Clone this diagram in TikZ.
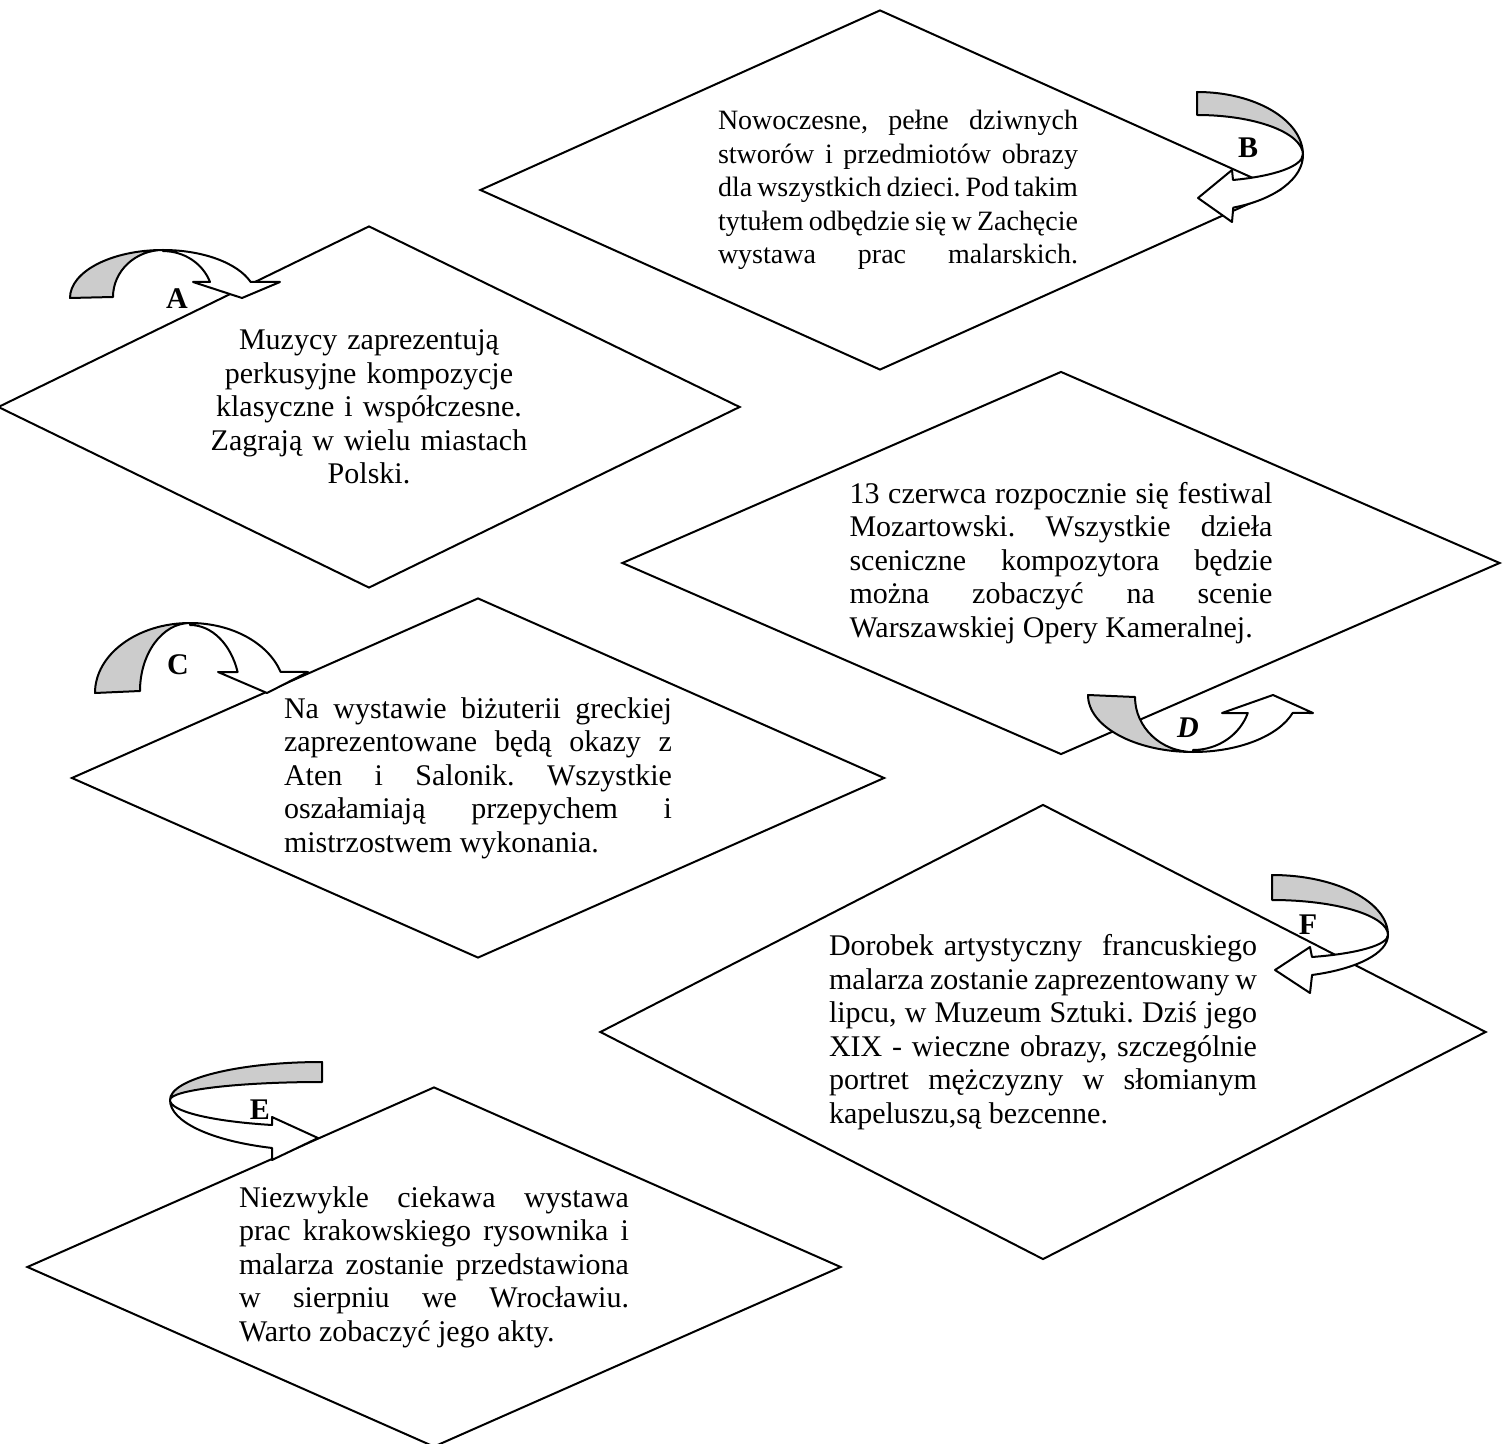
\documentclass[tikz,border=0pt]{standalone}
\usepackage{fontspec}
\setmainfont{Liberation Serif}
\usetikzlibrary{shapes.geometric}

% one full-width (justified) line of a notice
\newcommand{\jline}[1]{\makebox[\linewidth][s]{#1}}

\tikzset{
  notice/.style={diamond, draw, line width=1pt, inner sep=0pt, align=justify,
                 font=\fontsize{15}{16.75}\selectfont\frenchspacing},
  back/.style={draw, line width=1pt, line join=round, fill=gray!40},
  front/.style={draw, line width=1pt, line join=round, fill=white},
  tag/.style={inner sep=0pt, font=\fontsize{15}{18}\selectfont\bfseries}
}

\begin{document}
\begin{tikzpicture}[x=0.5pt, y=-0.5pt]
\useasboundingbox (0,0) rectangle (1505,1444);

% the six notices
\node[notice, minimum width=400pt, minimum height=180pt, aspect=2.22, text width=198pt,
      font=\fontsize{14}{16.75}\selectfont\frenchspacing] (nowoczesne) at (880,190) {%
  \linewidth=180pt
  \hspace*{18pt}\jline{Nowoczesne, pełne dziwnych}\\
  \hspace*{18pt}\jline{stworów i przedmiotów obrazy}\\
  \hspace*{18pt}\jline{dla wszystkich dzieci. Pod takim}\\
  \hspace*{18pt}\jline{tytułem odbędzie się w Zachęcie}\\
  \hspace*{18pt}\jline{wystawa prac malarskich.}};

\node[notice, minimum width=371pt, minimum height=181pt, aspect=2.05, text width=165pt,
      align=center] (muzycy) at (369,407) {%
  Muzycy zaprezentują\\
  perkusyjne kompozycje\\
  klasyczne i współczesne.\\
  Zagrają w wielu miastach\\
  Polski.};

\node[notice, minimum width=439pt, minimum height=191.5pt, aspect=2.29, text width=211.5pt]
      (mozart) at (1061,563) {%
  \jline{13 czerwca rozpocznie się festiwal}\\
  \jline{Mozartowski. Wszystkie dzieła}\\
  \jline{sceniczne kompozytora będzie}\\
  \jline{można zobaczyć na scenie}\\
  Warszawskiej Opery Kameralnej.};

\node[notice, minimum width=406.5pt, minimum height=180pt, aspect=2.26, text width=194pt]
      (bizuteria) at (478,778) {%
  \jline{Na wystawie biżuterii greckiej}\\
  \jline{zaprezentowane będą okazy z}\\
  \jline{Aten i Salonik. Wszystkie}\\
  \jline{oszałamiają przepychem i}\\
  mistrzostwem wykonania.};

\node[notice, minimum width=443pt, minimum height=227.5pt, aspect=1.95, text width=214pt]
      (malarz) at (1043,1032) {%
  \jline{Dorobek artystyczny~ francuskiego}\\
  \jline{malarza zostanie zaprezentowany w}\\
  \jline{lipcu, w Muzeum Sztuki. Dziś jego}\\
  \jline{XIX - wieczne obrazy, szczególnie}\\
  \jline{portret mężczyzny w słomianym}\\
  kapeluszu,są bezcenne.};

\node[notice, minimum width=407pt, minimum height=180pt, aspect=2.26, text width=195pt]
      (rysownik) at (434,1267) {%
  \jline{Niezwykle ciekawa wystawa}\\
  \jline{prac krakowskiego rysownika i}\\
  \jline{malarza zostanie przedstawiona}\\
  \jline{w sierpniu we Wrocławiu.}\\
  Warto zobaczyć jego akty.};

% curved arrows
% A
\filldraw[back] (70,298) arc[start angle=180, end angle=270, x radius=93, y radius=48]
  arc[start angle=270, end angle=180, x radius=50, y radius=47] -- cycle;
\filldraw[front] (163,250) arc[start angle=270, end angle=340.5, x radius=93, y radius=48]
  -- (280,282) -- (242,298) -- (193,282) -- (210,282)
  arc[start angle=340, end angle=270, x radius=50, y radius=47] -- cycle;
% B
\filldraw[back] (1197,92) arc[start angle=270, end angle=360, x radius=106, y radius=63]
  arc[start angle=0, end angle=-90, x radius=106, y radius=40] -- cycle;
\filldraw[front] (1303,155) arc[start angle=0, end angle=70, x radius=106, y radius=56]
  -- (1232,222) -- (1198,198) -- (1232,170) -- (1233,180)
  arc[start angle=70, end angle=0, x radius=106, y radius=27] -- cycle;
% C
\filldraw[back] (95,693) arc[start angle=180, end angle=270, x radius=95, y radius=70]
  arc[start angle=270, end angle=180, x radius=50, y radius=68] -- cycle;
\filldraw[front] (190,623) arc[start angle=270, end angle=342.5, x radius=95, y radius=70]
  -- (308,672) -- (267,693) -- (218,672) -- (237.6,672)
  arc[start angle=342, end angle=270, x radius=50, y radius=68] -- cycle;
% D
\filldraw[back] (1088,695) arc[start angle=180, end angle=90, x radius=105, y radius=57]
  arc[start angle=90, end angle=180, x radius=58, y radius=55] -- cycle;
\filldraw[front] (1193,752) arc[start angle=90, end angle=18.4, x radius=105, y radius=57]
  -- (1313,713) -- (1273,695) -- (1222,713) -- (1247.8,713)
  arc[start angle=19.1, end angle=90, x radius=58, y radius=55] -- cycle;
% E
\filldraw[back] (322,1062) arc[start angle=270, end angle=180, x radius=152, y radius=38]
  arc[start angle=180, end angle=270, x radius=152, y radius=18] -- cycle;
\filldraw[front] (170,1100) arc[start angle=180, end angle=109.2, x radius=152, y radius=50.8]
  -- (272,1160) -- (318,1138) -- (272,1117) -- (272,1125)
  arc[start angle=109.2, end angle=180, x radius=152, y radius=26.5] -- cycle;
% F
\filldraw[back] (1272,875) arc[start angle=270, end angle=360, x radius=116, y radius=60]
  arc[start angle=0, end angle=-90, x radius=116, y radius=35] -- cycle;
\filldraw[front] (1388,935) arc[start angle=0, end angle=69.8, x radius=116, y radius=42.6]
  -- (1310,993) -- (1275,970) -- (1310,947) -- (1312,957)
  arc[start angle=69.8, end angle=0, x radius=116, y radius=23.4] -- cycle;

% letters
\node[tag] (la) at (177,299) {A};
\node[tag] (lb) at (1248,148) {B};
\node[tag] (lc) at (178,665) {C};
\node[tag, font=\fontsize{15}{18}\selectfont\bfseries\itshape] (ld) at (1188,728) {D};
\node[tag] (le) at (260,1110) {E};
\node[tag] (lf) at (1308,925) {F};
\end{tikzpicture}
\end{document}
